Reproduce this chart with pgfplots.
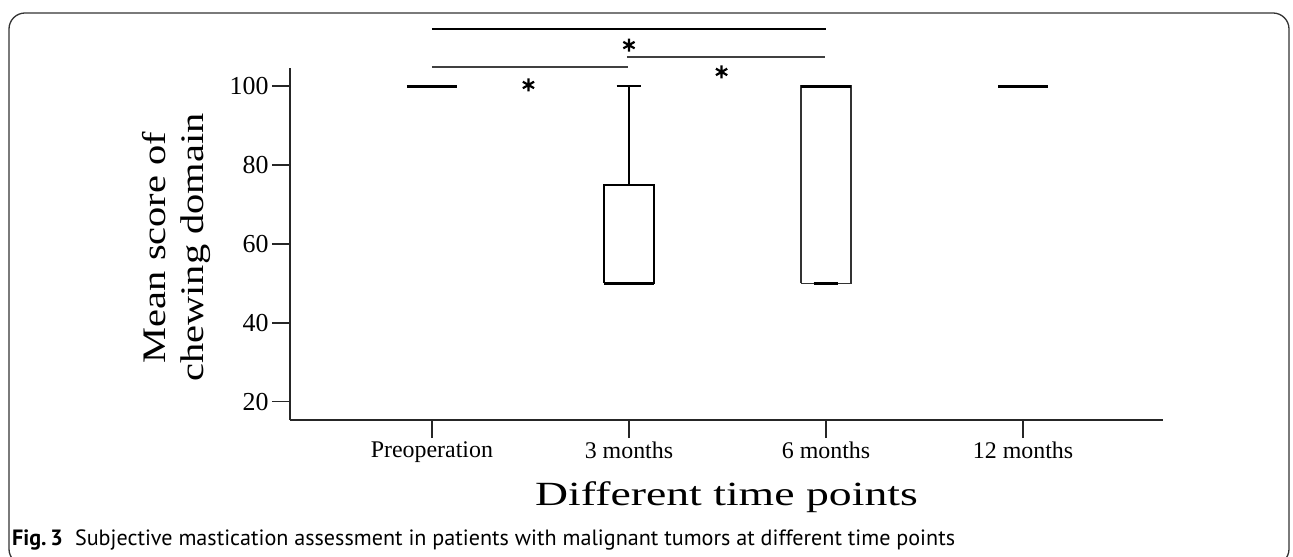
\documentclass[border=0pt]{standalone}
\usepackage{fontspec}
\setmainfont{Liberation Serif}
\newfontfamily\labfont[FakeStretch=1.35]{Liberation Serif}
\newfontfamily\ylabfont[FakeStretch=1.23]{Liberation Serif}
\newfontfamily\capfont{PT Sans}
\usepackage{pgfplots}
\pgfplotsset{compat=1.18}

\begin{document}
\begin{tikzpicture}
\useasboundingbox (0bp,0bp) rectangle (1293bp,557bp);
\draw[black!80, line width=1.3bp, rounded corners=16bp] (9bp,-8bp) rectangle (1289bp,544bp);
\begin{axis}[
  at={(290bp,137bp)}, anchor=south west,
  scale only axis, width=873bp, height=352bp,
  xmin=-0.72, xmax=3.71, ymin=15.4, ymax=104.6,
  axis x line*=bottom, axis y line*=left,
  axis line style={-, line width=1.4bp, black!85},
  xtick={0,1,2,3},
  xticklabels={Preoperation,3 months,6 months,12 months},
  ytick={20,40,60,80,100},
  tick align=outside, major tick length=18bp,
  tick style={black!85, line width=1.3bp},
  xticklabel style={font=\fontsize{24}{24}\selectfont},
  yticklabel style={font=\fontsize{26}{26}\selectfont},
  /pgf/number format/assume math mode=true,
  clip=false,
  xlabel={Different time points},
  xlabel style={font=\labfont\fontsize{34}{34}\selectfont, at={(axis description cs:0.5,-0.219)}, anchor=center},
  ylabel={Mean score of\\chewing domain},
  ylabel style={font=\ylabfont\fontsize{33}{38}\selectfont, align=center, at={(axis description cs:-0.13,0.49)}, anchor=center},
]
% boxes (quartiles): 3 months 50-75, 6 months 50-100
\addplot[black, line width=1.4bp] coordinates {(0.873,50) (1.127,50) (1.127,75) (0.873,75) (0.873,50)};
\addplot[black!80, line width=1.4bp] coordinates {(1.873,50) (2.127,50) (2.127,100) (1.873,100) (1.873,50)};
% whiskers
\addplot[black, line width=2.6bp] coordinates {(1,75) (1,100)};
\addplot[black, line width=2.2bp] coordinates {(0.937,100) (1.063,100)};
\addplot[black, line width=2.2bp] coordinates {(1.937,50) (2.063,50)};
% medians
\addplot[black, line width=3.2bp] coordinates {(-0.127,100) (0.127,100)};
\addplot[black, line width=3.2bp] coordinates {(0.873,50) (1.127,50)};
\addplot[black, line width=3.2bp] coordinates {(1.873,100) (2.127,100)};
\addplot[black, line width=3.2bp] coordinates {(2.873,100) (3.127,100)};
% significance brackets
\addplot[black, line width=1.5bp] coordinates {(0,114.5) (2,114.5)};
\addplot[black!75, line width=1.5bp] coordinates {(0,104.9) (0.995,104.9)};
\addplot[black!75, line width=1.5bp] coordinates {(0.99,107.4) (1.995,107.4)};
\addplot[only marks, mark=asterisk, mark size=6.5bp, line width=2.2bp, black] coordinates {(1.0,110.4) (0.49,100.3) (1.47,103.6)};
\end{axis}
\node[anchor=base west, inner sep=0pt] at (12bp,12bp) {\capfont\fontsize{22.2}{22.2}\selectfont\textbf{Fig.\,3}\hspace{0.55em}Subjective mastication assessment in patients with malignant tumors at different time points};
\end{tikzpicture}
\end{document}
